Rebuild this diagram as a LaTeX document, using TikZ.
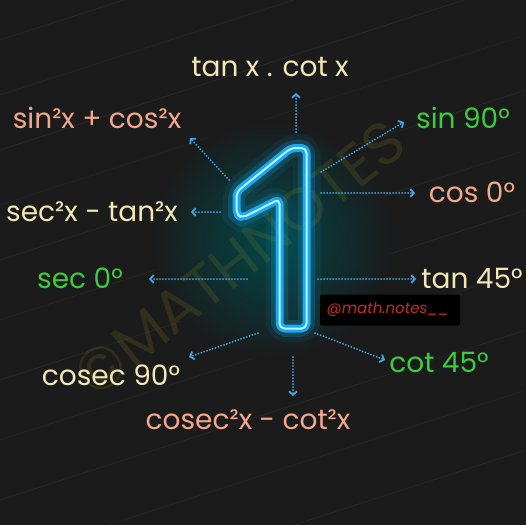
\documentclass[tikz,border=0pt]{standalone}
\usepackage{fontspec}
\setmainfont{Poppins}
\usetikzlibrary{arrows.meta}
\definecolor{bgc}{HTML}{1B1B1C}
\definecolor{cream}{HTML}{F4E8B8}
\definecolor{salmon}{HTML}{F3A78C}
\definecolor{greenc}{HTML}{3DCC3D}
\definecolor{arrowc}{HTML}{45A6E0}
\definecolor{neon}{HTML}{1AA8EE}
\definecolor{neonhi}{HTML}{B5F5FF}
\definecolor{wmark}{HTML}{8A8A20}
\definecolor{tagred}{HTML}{C62A2E}
\tikzset{
  lbl/.style={font=\fontsize{28}{32}\selectfont, inner sep=0pt, anchor=center},
  ptr/.style={arrowc, line width=2pt, line cap=round, dash pattern=on 0pt off 3pt,
    -{Straight Barb[length=3.5pt,width=8pt,line width=1.8pt]}},
  streak/.style={white, line width=0.8pt},
}
\begin{document}
\begin{tikzpicture}[x=1pt,y=-1pt]
\useasboundingbox (0,0) rectangle (526,525);
\fill[bgc] (0,0) rectangle (526,525);
% background streaks
\foreach \y/\o in {40/0.05,95/0.04,150/0.06,205/0.03,260/0.05,320/0.04,380/0.06,440/0.04,500/0.05,560/0.04,620/0.05}{
  \draw[streak, opacity=\o] (0,\y) -- (526,\y-170);
}
% glow around the one
\shade[inner color=teal!60!black, outer color=bgc, opacity=0.9] (272,240) circle (120);
% watermark
\node[rotate=38.5, text=wmark, opacity=0.18, font=\fontsize{60}{60}\selectfont, inner sep=0pt] (wm) at (240,258) {©MATHNOTES};
% the neon one
\def\onepath{(279.5,328.5) -- (279.5,199) -- (242,218) -- (236.5,214) -- (236.5,192) -- (291,148) -- (306.5,148) -- (306.5,328.5) -- cycle}
\draw[neon, opacity=0.08, line width=28pt, rounded corners=8pt, line join=round] \onepath;
\draw[neon, opacity=0.2, line width=17pt, rounded corners=7pt, line join=round] \onepath;
\draw[neon, line width=8pt, rounded corners=5pt, line join=round] \onepath;
\draw[neonhi, line width=2pt, rounded corners=5pt, line join=round] \onepath;
% tag
\node[fill=black, rounded corners=2pt, minimum width=140pt, minimum height=31pt, inner sep=0pt] (tagbox) at (390,310) {};
\node[text=tagred, font=\rmfamily\itshape\fontsize{15}{17}\selectfont, inner sep=0pt] (tag) at (388,309) {@math.notes\_\_};
% labels
\node[lbl, text=cream]  (t1)  at (270,67)  {tan x . cot x};
\node[lbl, text=salmon] (t2)  at (97,118)  {sin²x + cos²x};
\node[lbl, text=greenc] (t3)  at (463,118) {sin 90°};
\node[lbl, text=salmon] (t4)  at (472,192) {cos 0°};
\node[lbl, text=cream]  (t5)  at (92,212)  {sec²x - tan²x};
\node[lbl, text=greenc] (t6)  at (80,278)  {sec 0°};
\node[lbl, text=cream]  (t7)  at (472,278) {tan 45°};
\node[lbl, text=cream]  (t8)  at (111,375) {cosec 90°};
\node[lbl, text=greenc] (t9)  at (439,362) {cot 45°};
\node[lbl, text=salmon] (t10) at (248,420) {cosec²x - cot²x};
% arrow ends
\coordinate (s1) at (296,132);  \coordinate (e1) at (296,93);
\coordinate (s2) at (229,180);  \coordinate (e2) at (190,138);
\coordinate (s3) at (321,172);  \coordinate (e3) at (404,122);
\coordinate (s4) at (321,193);  \coordinate (e4) at (415,193);
\coordinate (s5) at (220,212);  \coordinate (e5) at (191,212);
\coordinate (s6) at (247,279);  \coordinate (e6) at (149,279);
\coordinate (s7) at (318,279);  \coordinate (e7) at (416,279);
\coordinate (s8) at (258,333);  \coordinate (e8) at (189,357);
\coordinate (s9) at (315,333);  \coordinate (e9) at (385,360);
\coordinate (s10) at (293,357); \coordinate (e10) at (293,396);
\foreach \i in {1,...,10}{ \draw[ptr] (s\i) -- (e\i); }
\end{tikzpicture}
\end{document}
